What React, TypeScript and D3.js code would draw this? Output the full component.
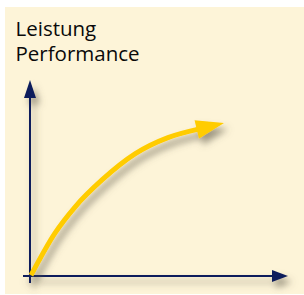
import React from "react";
import * as d3 from "d3";

const labels = ["Leistung", "Performance"];
// curve points in data units (x: 0..100, y: 0..100)
const curveX = [0.4, 10, 18, 28.8, 42, 55.2, 67];
const curveY = [0.4, 21.9, 35.2, 49, 62.3, 70.6, 74.8];
const arrowTip = { x: 77.6, y: 78 };

const W = 304, H = 295;
const navy = "#0b1f5c";
const yellow = "#ffcc00";

export default function App() {
  const x = d3.scaleLinear().domain([0, 100]).range([30, 280]);
  const y = d3.scaleLinear().domain([0, 100]).range([276, 80]);
  const pts: [number, number][] = curveX.map((v, i) => [x(v), y(curveY[i])]);
  const line = d3.line().curve(d3.curveMonotoneX);
  const last = pts[pts.length - 1];
  const tip: [number, number] = [x(arrowTip.x), y(arrowTip.y)];
  const dx = tip[0] - last[0], dy = tip[1] - last[1];
  const len = Math.hypot(dx, dy);
  const ux = dx / len, uy = dy / len;
  const bx = tip[0] - ux * 28, by = tip[1] - uy * 28;
  const hw = 9.5;
  const head = `M${tip[0]},${tip[1]} L${bx - uy * hw},${by + ux * hw} L${bx + uy * hw},${by - ux * hw} Z`;

  const x0 = x(0), y0 = y(0);
  const xEnd = x(100), yTop = y(100);
  return (
    <svg width={W} height={H} style={{ position: "absolute", left: 0, top: 0 }}>
      <defs>
        <filter id="sh" x="-50%" y="-50%" width="200%" height="200%">
          <feDropShadow dx="4" dy="6" stdDeviation="3.5" floodColor="#5e5848" floodOpacity="0.6" />
        </filter>
      </defs>
      <rect x={0} y={0} width={W} height={H} fill="#ffffff" />
      <rect x={5} y={7} width={299} height={287} fill="#fdf4d8" />
      <text fontFamily="Open Sans" fontSize={20.5} fill="#0a0a0a">
        {labels.map((t, i) => (
          <tspan key={t} x={15.5} y={36 + i * 25}>{t}</tspan>
        ))}
      </text>
      <g filter="url(#sh)">
        <line x1={x0} y1={y0 + 7} x2={x0} y2={yTop + 14} stroke={navy} strokeWidth={2} />
        <path d={`M${x0},${yTop} L${x0 - 6},${yTop + 18} L${x0 + 6},${yTop + 18} Z`} fill={navy} />
        <line x1={x0 - 7} y1={y0} x2={xEnd - 6} y2={y0} stroke={navy} strokeWidth={2} />
        <path d={`M${xEnd + 8},${y0} L${xEnd - 8},${y0 - 6} L${xEnd - 8},${y0 + 6} Z`} fill={navy} />
      </g>
      <g filter="url(#sh)">
        <path d={line(pts) || ""} fill="none" stroke={yellow} strokeWidth={5} />
        <path d={head} fill={yellow} />
      </g>
    </svg>
  );
}
